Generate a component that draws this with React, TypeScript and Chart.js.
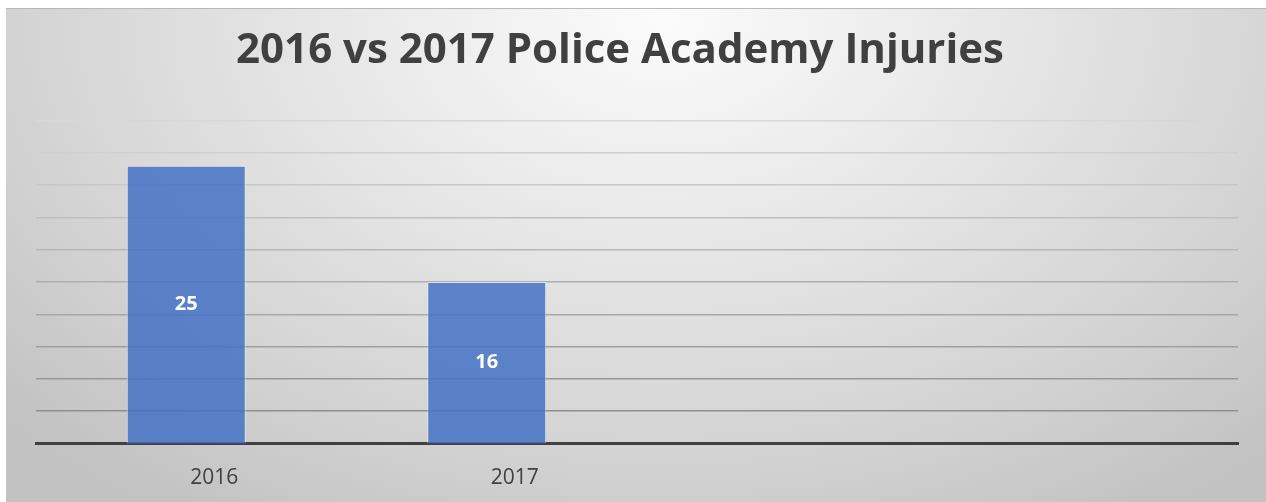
import React, { useEffect, useRef } from "react";
import { Chart, registerables } from "chart.js";

Chart.register(...registerables);

const categories: string[] = ["2016", "2017", "", ""];
const injuries: (number | null)[] = [25, 16, null, null];
const yMin = 3.5;
const yMax = 28.5;
const yStep = 2.5;
const titleText = "2016 vs 2017 Police Academy Injuries";

const barLabelPlugin = {
  id: "barLabels",
  afterDatasetsDraw(chart: any) {
    const ctx = chart.ctx;
    const meta = chart.getDatasetMeta(0);
    const bottom = chart.chartArea.bottom;
    ctx.save();
    ctx.fillStyle = "#ffffff";
    ctx.font = "bold 20px 'Open Sans'";
    ctx.textAlign = "center";
    ctx.textBaseline = "middle";
    meta.data.forEach((el: any, i: number) => {
      const v = chart.data.datasets[0].data[i];
      if (v === null || v === undefined) return;
      const y = (el.y + Math.min(el.base, bottom)) / 2;
      ctx.fillText(String(v), el.x, y);
    });
    ctx.restore();
  },
};

const titlePlugin = {
  id: "chartTitle",
  afterDraw(chart: any) {
    const ctx = chart.ctx;
    ctx.save();
    ctx.fillStyle = "#404040";
    ctx.font = "bold 42px 'Open Sans'";
    ctx.textAlign = "center";
    ctx.textBaseline = "alphabetic";
    ctx.fillText(titleText, chart.width / 2 - 16, 54);
    ctx.restore();
  },
};

export default function App() {
  const ref = useRef<HTMLCanvasElement | null>(null);
  useEffect(() => {
    if (!ref.current) return;
    const chart = new Chart(ref.current, {
      type: "bar",
      data: {
        labels: categories,
        datasets: [
          {
            data: injuries as any,
            backgroundColor: "rgba(68,114,196,0.85)",
            borderColor: "rgba(255,255,255,0.45)",
            borderWidth: 1,
            barPercentage: 0.396,
            categoryPercentage: 1,
          },
        ],
      },
      options: {
        animation: false,
        responsive: false,
        maintainAspectRatio: false,
        layout: { padding: { left: 30, right: 28, top: 111.7, bottom: 0.3 } },
        plugins: {
          legend: { display: false },
          tooltip: { enabled: false },
          title: { display: false },
        },
        scales: {
          x: {
            grid: { display: false, drawTicks: false },
            border: { display: true, color: "#404040", width: 3 },
            ticks: {
              color: "#404040",
              font: { family: "'Open Sans'", size: 21, lineHeight: 1.2 },
              padding: 22.1,
              labelOffset: 28,
            },
          },
          y: {
            min: yMin,
            max: yMax,
            ticks: { display: false, stepSize: yStep },
            border: { display: false },
            grid: {
              drawTicks: false,
              lineWidth: 1.5,
              color: (c: any) => {
                const idx = c.index ?? 0;
                const t = idx / 10;
                const g = Math.round(135 + (215 - 135) * t);
                return `rgb(${g},${g},${g})`;
              },
            },
          },
        },
      },
      plugins: [barLabelPlugin, titlePlugin],
    });
    return () => chart.destroy();
  }, []);

  return (
    <div
      style={{
        position: "absolute",
        left: 6,
        top: 8,
        width: 1260,
        height: 494,
        overflow: "hidden",
        boxSizing: "border-box",
        borderTop: "1px solid #b8b8b8",
        background:
          "radial-gradient(ellipse 70% 120% at 52% 2%, #fbfbfb 0%, #e6e6e6 40%, #d2d2d2 75%, #c2c2c2 100%)",
      }}
    >
      <canvas ref={ref} width={1260} height={504} style={{ display: "block" }} />
    </div>
  );
}
